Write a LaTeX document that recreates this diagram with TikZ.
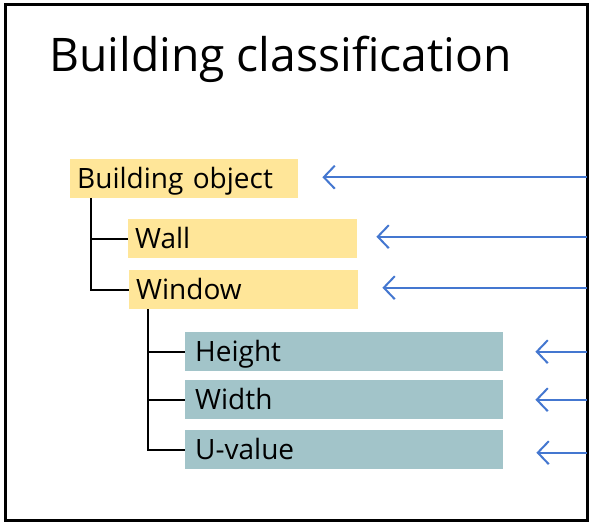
\documentclass[tikz,border=0pt]{standalone}
\usepackage{fontspec}
\setmainfont{Open Sans}
\usetikzlibrary{arrows.meta,positioning}
\definecolor{sand}{HTML}{FFE699}
\definecolor{slate}{HTML}{A2C4C9}
\definecolor{feedblue}{HTML}{4477D0}
\tikzset{
  classbox/.style={anchor=north west, inner ysep=0pt, minimum height=39pt,
    text height=19pt, text depth=0pt, align=left,
    font=\fontsize{28}{32}\selectfont},
  objbox/.style={classbox, fill=sand, inner xsep=7pt},
  propbox/.style={classbox, fill=slate, inner xsep=10pt, text width=298pt},
  tree/.style={draw=black, line width=2pt},
  feed/.style={draw=feedblue, line width=2pt,
    -{Straight Barb[length=11pt,width=23pt,line width=2pt]}}
}
\begin{document}
\begin{tikzpicture}[x=1pt,y=-1pt]
  \useasboundingbox (0,0) rectangle (590,523);
  \draw[line width=3.5pt] (5.5,4.5) rectangle (587.5,520.5);
  \coordinate (rim) at (587,0);

  \node[anchor=base west, inner sep=0pt, font=\fontsize{46.3}{52}\selectfont]
    (title) at (49,71) {Building classification};

  % objects
  \node[objbox, text width=214pt] (bo) at (70,159) {Building object};
  \node[objbox, text width=215pt] (wall) at (128,219) {Wall};
  \node[objbox, text width=215pt] (win) at (129,270) {Window};

  % properties of the window
  \node[propbox] (ht) at (185,332) {Height};
  \node[propbox] (wd) at (185,380) {Width};
  \node[propbox] (uv) at (185,430) {U-value};

  % hierarchy lines
  \draw[tree] ([xshift=21pt]bo.south west) |- (wall.west);
  \draw[tree] ([xshift=21pt]bo.south west) |- (win.west);
  \draw[tree] ([xshift=19pt]win.south west) |- (ht.west);
  \draw[tree] ([xshift=19pt]win.south west) |- (wd.west);
  \draw[tree] ([xshift=19pt]win.south west) |- (uv.west);

  % incoming arrows
  \draw[feed] ([yshift=1.5pt]bo.east -| rim) -- ([xshift=24pt,yshift=1.5pt]bo.east);
  \draw[feed] ([yshift=2pt]wall.east -| rim) -- ([xshift=19pt,yshift=2pt]wall.east);
  \draw[feed] ([yshift=2pt]win.east -| rim) -- ([xshift=24pt,yshift=2pt]win.east);
  \draw[feed] (ht.east -| rim) -- ([xshift=32pt]ht.east);
  \draw[feed] (wd.east -| rim) -- ([xshift=32pt]wd.east);
  \draw[feed] ([yshift=-3pt]uv.east -| rim) -- ([xshift=33pt,yshift=-3pt]uv.east);
\end{tikzpicture}
\end{document}
